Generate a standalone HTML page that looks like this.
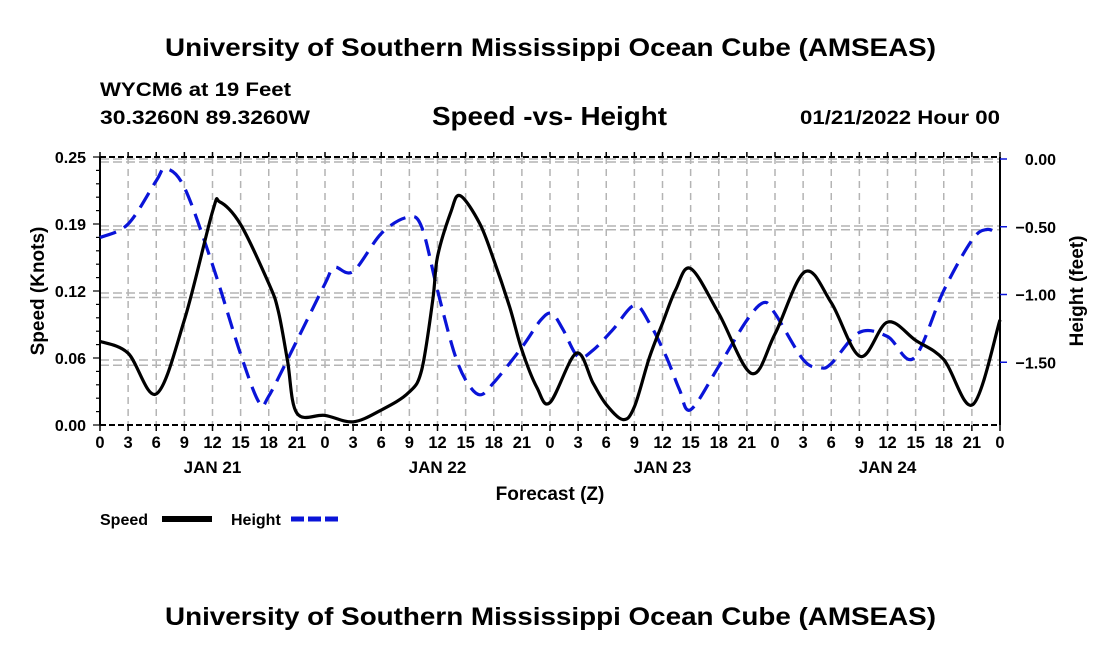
<!DOCTYPE html>
<html><head><meta charset="utf-8"><style>
html,body{margin:0;padding:0;background:#fff;}
svg{display:block;font-family:"Liberation Sans",Arial,sans-serif;font-weight:bold;}
</style></head><body>
<svg id="chart" width="1100" height="650" viewBox="0 0 1100 650" xmlns="http://www.w3.org/2000/svg">
<rect width="1100" height="650" fill="#fff"/>
<text x="165" y="56" font-size="25" textLength="771" lengthAdjust="spacingAndGlyphs">University of Southern Mississippi Ocean Cube (AMSEAS)</text>
<text x="100" y="96" font-size="19" textLength="191" lengthAdjust="spacingAndGlyphs">WYCM6 at 19 Feet</text>
<text x="100" y="124" font-size="19" textLength="210" lengthAdjust="spacingAndGlyphs">30.3260N  89.3260W</text>
<text x="432" y="125" font-size="26" textLength="235" lengthAdjust="spacingAndGlyphs">Speed -vs- Height</text>
<text x="800" y="124" font-size="19" textLength="200" lengthAdjust="spacingAndGlyphs">01/21/2022 Hour 00</text>
<g id="grid"></g>
<g id="axes"></g>
<path id="heightLine" fill="none" stroke="#0a14d8" stroke-width="3.2" stroke-dasharray="17,9"/>
<path id="speedLine" fill="none" stroke="#000" stroke-width="3.2"/>
<text transform="translate(44,291) rotate(-90)" text-anchor="middle" font-size="19">Speed (Knots)</text>
<text transform="translate(1083,291) rotate(-90)" text-anchor="middle" font-size="19">Height (feet)</text>
<text x="550" y="500" text-anchor="middle" font-size="19">Forecast (Z)</text>
<g>
<text x="100" y="525" font-size="16">Speed</text>
<rect x="162" y="516" width="50" height="6" fill="#000"/>
<text x="231" y="525" font-size="16">Height</text>
<line x1="291" y1="519" x2="342" y2="519" stroke="#0a14d8" stroke-width="5" stroke-dasharray="13,4"/>
</g>
<text x="165" y="625" font-size="25" textLength="771" lengthAdjust="spacingAndGlyphs">University of Southern Mississippi Ocean Cube (AMSEAS)</text>
</svg>
<script>
const hourTickLabels=["0","3","6","9","12","15","18","21"];
const dayLabels=["JAN 21","JAN 22","JAN 23","JAN 24"];
const speedTicks=[0.25,0.1875,0.125,0.0625,0];
const speedTickLabels=["0.25","0.19","0.12","0.06","0.00"];
const heightTicks=[0,-0.5,-1,-1.5];
const heightTickLabels=["0.00","\u22120.50","\u22121.00","\u22121.50"];
const speedHours=[0,3,6,9,12,12.8,15,18,19,20,21,24,27,30,32.9,34.3,35.5,36,37.4,38.4,40.5,42,43.7,45,46.6,48,50.8,52.6,54,55.8,57,58.6,60,61.4,63,66,69.5,72,75.2,78,81.1,84,87,90,93.1,96];
const speedValues=[0.078,0.067,0.029,0.098,0.199,0.208,0.187,0.132,0.107,0.06,0.011,0.009,0.003,0.014,0.03,0.051,0.117,0.157,0.198,0.214,0.188,0.154,0.110,0.070,0.035,0.021,0.067,0.039,0.019,0.005,0.017,0.063,0.095,0.126,0.146,0.104,0.048,0.085,0.143,0.114,0.064,0.096,0.079,0.061,0.019,0.098];
const heightHours=[0,3,6,7,9,12,15,17,18,21,24,25,27,30,32.8,34.3,36,37.7,39,40.5,42,45,47,48.2,49.4,51,52.6,54.7,57,58.6,60.4,61.8,63,66,69,70.8,72,75,76.8,78,81,84,86.8,90,93,94.6,96];
const heightValues=[-0.58,-0.48,-0.16,-0.07,-0.21,-0.78,-1.44,-1.80,-1.75,-1.34,-0.92,-0.80,-0.83,-0.55,-0.43,-0.50,-0.97,-1.41,-1.63,-1.74,-1.65,-1.39,-1.19,-1.14,-1.26,-1.46,-1.41,-1.26,-1.08,-1.21,-1.46,-1.70,-1.85,-1.53,-1.19,-1.06,-1.14,-1.48,-1.54,-1.51,-1.28,-1.31,-1.47,-0.97,-0.60,-0.52,-0.56];

const X0=100,X1=1000,YT=157,YB=425;
const xs=h=>X0+h*(X1-X0)/96;
const ySpeed=v=>YB-v*(YB-YT)/0.25;
function yH(v){return 159+(-v)*135.5;}
const NS="http://www.w3.org/2000/svg";
function mk(tag,attrs,parent){const e=document.createElementNS(NS,tag);for(const k in attrs)e.setAttribute(k,attrs[k]);parent.appendChild(e);return e;}
const grid=document.getElementById('grid'),axes=document.getElementById('axes');
for(let h=3;h<96;h+=3){
  const l=mk('line',{x1:xs(h),x2:xs(h),y1:YT,y2:YB,stroke:'#b4b4b4','stroke-width':1.5,'stroke-dasharray':'7,5'},grid);
  
  
}
speedTicks.forEach(v=>{
  if(v===0)return;
  const l=mk('line',{x1:X0,x2:X1,y1:ySpeed(v)+2,y2:ySpeed(v)+2,stroke:'#b4b4b4','stroke-width':1.5,'stroke-dasharray':'9,4'},grid);
  
  
});
heightTicks.forEach(v=>{
  const l=mk('line',{x1:X0,x2:X1,y1:yH(v)+3,y2:yH(v)+3,stroke:'#b4b4b4','stroke-width':1.5,'stroke-dasharray':'9,4'},grid);
  
  
});
mk('line',{x1:X0,x2:X0,y1:YT,y2:YB,stroke:'#000','stroke-width':2},axes);
mk('line',{x1:X1,x2:X1,y1:YT,y2:YB,stroke:'#000','stroke-width':2},axes);
mk('line',{x1:X0,x2:X1,y1:YT,y2:YT,stroke:'#000','stroke-width':2,'stroke-dasharray':'6,3'},axes);
mk('line',{x1:X0,x2:X1,y1:YB,y2:YB,stroke:'#000','stroke-width':2,'stroke-dasharray':'6,3'},axes);
for(let i=0;i<=32;i++){
  const h=i*3,x=xs(h);
  mk('line',{x1:x,x2:x,y1:YB,y2:YB+6,stroke:'#000','stroke-width':1.5},axes);
  mk('line',{x1:x,x2:x,y1:YT,y2:YT-5,stroke:'#000','stroke-width':1.5},axes);
  const t=mk('text',{x:x,y:448,'text-anchor':'middle','font-size':16.5},axes);
  t.textContent=hourTickLabels[i%8];
  
  
}
dayLabels.forEach((d,i)=>{
  const t=mk('text',{x:xs(12+24*i),y:473,'text-anchor':'middle','font-size':17},axes);
  t.textContent=d;
  
  
});
for(let i=0;i<=20;i++){const y=YB-i*(YB-YT)/20;mk('line',{x1:X0-(i%5?4:7),x2:X0,y1:y,y2:y,stroke:'#000','stroke-width':1.2},axes);}
speedTicks.forEach((v,i)=>{
  const t=mk('text',{x:86,y:ySpeed(v)+6,'text-anchor':'end','font-size':16},axes);
  t.textContent=speedTickLabels[i];
  
  
});
heightTicks.forEach((v,i)=>{
  const y=yH(v);
  mk('line',{x1:X1,x2:X1+7,y1:y,y2:y,stroke:'#0a14d8','stroke-width':1.5},axes);
  const t=mk('text',{x:1056,y:y+6,'text-anchor':'end','font-size':16},axes);
  t.textContent=heightTickLabels[i];
  
  
});
function smooth(pts){
  let d='M'+pts[0][0].toFixed(1)+','+pts[0][1].toFixed(1);
  for(let i=0;i<pts.length-1;i++){
    const p0=pts[Math.max(0,i-1)],p1=pts[i],p2=pts[i+1],p3=pts[Math.min(pts.length-1,i+2)];
    const c1=[p1[0]+(p2[0]-p0[0])/6,p1[1]+(p2[1]-p0[1])/6];
    const c2=[p2[0]-(p3[0]-p1[0])/6,p2[1]-(p3[1]-p1[1])/6];
    d+=` C${c1[0].toFixed(1)},${c1[1].toFixed(1)} ${c2[0].toFixed(1)},${c2[1].toFixed(1)} ${p2[0].toFixed(1)},${p2[1].toFixed(1)}`;
  }
  return d;
}
document.getElementById('speedLine').setAttribute('d',smooth(speedHours.map((h,i)=>[xs(h),ySpeed(speedValues[i])])));
document.getElementById('heightLine').setAttribute('d',smooth(heightHours.map((h,i)=>[xs(h),yH(heightValues[i])])));
</script>
</body></html>
